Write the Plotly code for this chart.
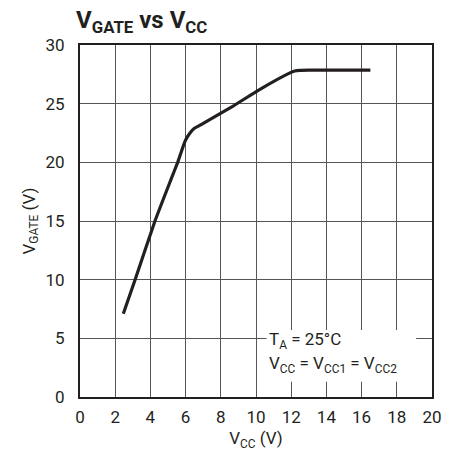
import plotly.graph_objects as go

# Gate drive voltage versus supply voltage
vcc = [2.46, 3.13, 4.26, 5.16, 5.55, 5.8, 6.0, 6.25, 6.5, 6.75, 7.2, 8.7, 10.2, 11.9, 12.2, 12.5, 13.0, 14.0, 16.5]
vgate = [7.1, 10.0, 15.0, 18.5, 20.0, 21.1, 21.9, 22.5, 22.9, 23.1, 23.5, 24.8, 26.2, 27.6, 27.78, 27.84, 27.86, 27.86, 27.86]

x_ticks = list(range(0, 21, 2))
y_ticks = list(range(0, 31, 5))

FONT = "Liberation Sans Narrow, Roboto, Arial Narrow, sans-serif"
INK = "#231f20"
GRID = "#555555"

fig = go.Figure()
fig.add_trace(go.Scatter(
    x=vcc, y=vgate, mode="lines",
    line=dict(color=INK, width=3.2, shape="spline", smoothing=0.4),
    hoverinfo="skip", showlegend=False,
))

# Condition label panel covering the grid
fig.add_shape(type="rect", xref="x", yref="y", x0=10.6, x1=19.1, y0=1.3, y1=5.7,
              fillcolor="white", line=dict(width=0), layer="above")
fig.add_annotation(x=10.65, y=4.85, xref="x", yref="y", xanchor="left", yanchor="middle",
                   text="T<sub>A</sub> = 25°C", showarrow=False,
                   font=dict(family=FONT, size=17, color=INK))
fig.add_annotation(x=10.65, y=2.75, xref="x", yref="y", xanchor="left", yanchor="middle",
                   text="V<sub>CC</sub> = V<sub>CC1</sub> = V<sub>CC2</sub>", showarrow=False,
                   font=dict(family=FONT, size=17, color=INK))

fig.update_layout(
    width=457, height=458,
    margin=dict(l=80, r=25, t=45, b=61),
    paper_bgcolor="white", plot_bgcolor="white",
    font=dict(family=FONT, size=17, color=INK),
    title=dict(text="<b>V<sub>GATE</sub> vs V<sub>CC</sub></b>",
               x=76 / 457, xanchor="left", y=1 - 20 / 458, yanchor="middle",
               font=dict(family=FONT, size=24, color=INK)),
    xaxis=dict(range=[0, 20], tickvals=x_ticks, ticktext=[str(v) for v in x_ticks],
               showgrid=True, gridcolor=GRID, gridwidth=1, zeroline=False,
               showline=True, linecolor=INK, linewidth=2, mirror=True,
               ticks="", ticklabelstandoff=4,
               title=dict(text="V<sub>CC</sub> (V)", standoff=6,
                          font=dict(family=FONT, size=17, color=INK))),
    yaxis=dict(range=[0, 30], tickvals=y_ticks, ticktext=[str(v) for v in y_ticks],
               showgrid=True, gridcolor=GRID, gridwidth=1, zeroline=False,
               showline=True, linecolor=INK, linewidth=2, mirror=True,
               ticks="", ticklabelstandoff=10,
               title=dict(text="V<sub>GATE</sub> (V)", standoff=6,
                          font=dict(family=FONT, size=17, color=INK))),
)

fig.write_html("out.html")
